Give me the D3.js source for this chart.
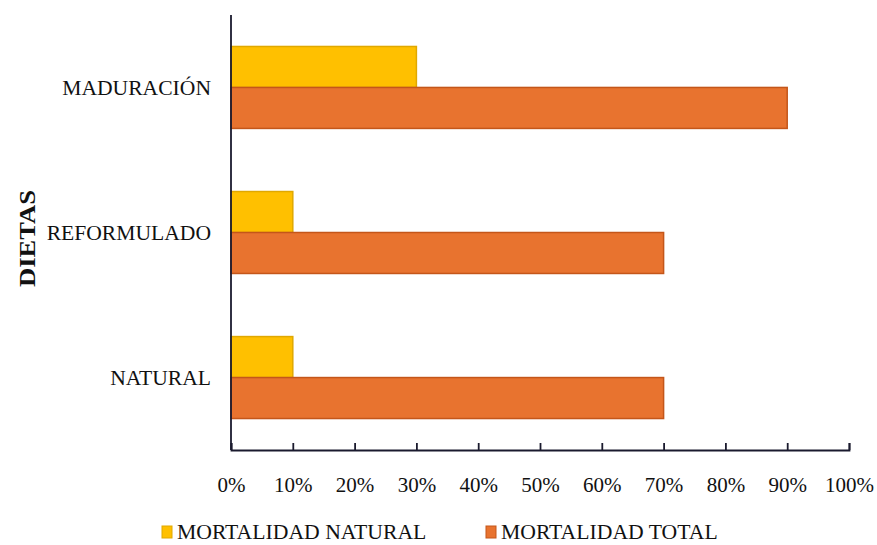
<!DOCTYPE html>
<html>
<head>
<meta charset="utf-8">
<script src="https://cdn.jsdelivr.net/npm/d3@7"></script>
<style>
  html, body { margin: 0; padding: 0; background: #fff; }
  svg { display: block; }
  text { font-family: "Liberation Serif", "Times New Roman", serif; fill: #111; }
</style>
</head>
<body>
<svg id="chart" width="877" height="545"></svg>
<script>
// Diet categories, listed top to bottom
const categories = ["MADURACIÓN", "REFORMULADO", "NATURAL"];
// Mortality values (fraction of 1)
const mortalidadNatural = [0.30, 0.10, 0.10];
const mortalidadTotal = [0.90, 0.70, 0.70];
const seriesNames = ["MORTALIDAD NATURAL", "MORTALIDAD TOTAL"];
const xTicks = [0, 0.1, 0.2, 0.3, 0.4, 0.5, 0.6, 0.7, 0.8, 0.9, 1.0];
const yTitle = "DIETAS";

const fills = ["#FFC000", "#E8732F"];
const strokes = ["#E0A800", "#C4561A"];

const svg = d3.select("#chart");
const plotLeft = 231, plotRight = 849, plotTop = 15, plotBottom = 450;

const x = d3.scaleLinear().domain([0, 1]).range([plotLeft, plotRight]);
const y = d3.scaleBand().domain(categories).range([plotTop, plotBottom]).paddingInner(0.435).paddingOuter(0.217);
const sub = d3.scaleBand().domain([0, 1]).range([0, y.bandwidth()]);

const data = categories.map((c, i) => ({ cat: c, vals: [mortalidadNatural[i], mortalidadTotal[i]] }));

const g = svg.append("g");
data.forEach(d => {
  d.vals.forEach((v, k) => {
    g.append("rect")
      .attr("x", x(0))
      .attr("y", y(d.cat) + sub(k))
      .attr("width", x(v) - x(0))
      .attr("height", sub.bandwidth())
      .attr("fill", fills[k])
      .attr("stroke", strokes[k])
      .attr("stroke-width", 1.5);
  });
});

// Bottom axis with ticks pointing into the plot
const xAxis = d3.axisBottom(x).tickValues(xTicks).tickFormat(d3.format(".0%")).tickSizeInner(-7).tickSizeOuter(-7).tickPadding(27);
const ax = svg.append("g").attr("transform", `translate(0,${plotBottom})`).call(xAxis);
ax.select(".domain").attr("stroke", "#1a1a2e").attr("stroke-width", 1.8);
ax.selectAll(".tick line").attr("stroke", "#1a1a2e").attr("stroke-width", 1.8);
ax.selectAll(".tick text")
  .attr("font-family", "Liberation Serif").attr("font-size", 21).attr("fill", "#111");

// Vertical axis line
svg.append("line").attr("x1", plotLeft).attr("x2", plotLeft).attr("y1", plotTop).attr("y2", plotBottom)
  .attr("stroke", "#1a1a2e").attr("stroke-width", 1.8);

// Category labels
svg.selectAll(".cat").data(categories).enter().append("text")
  .attr("class", "cat")
  .attr("x", 211)
  .attr("y", d => y(d) + y.bandwidth() / 2)
  .attr("dy", "0.35em")
  .attr("text-anchor", "end")
  .attr("font-size", 21.6)
  .text(d => d);

// Axis title
svg.append("text")
  .attr("transform", `translate(35,${(plotTop + plotBottom) / 2 + 6}) rotate(-90)`)
  .attr("text-anchor", "middle")
  .attr("font-size", 23)
  .attr("font-weight", "bold")
  .attr("textLength", 97)
  .attr("lengthAdjust", "spacingAndGlyphs")
  .text(yTitle);

// Legend
const legendX = [162, 486];
seriesNames.forEach((name, k) => {
  svg.append("rect").attr("x", legendX[k]).attr("y", 526).attr("width", 10).attr("height", 12)
    .attr("fill", fills[k]).attr("stroke", strokes[k]).attr("stroke-width", 1);
  svg.append("text")
    .attr("x", legendX[k] + 15).attr("y", 539)
    .attr("font-size", 21.7).text(name);
});
</script>
</body>
</html>
